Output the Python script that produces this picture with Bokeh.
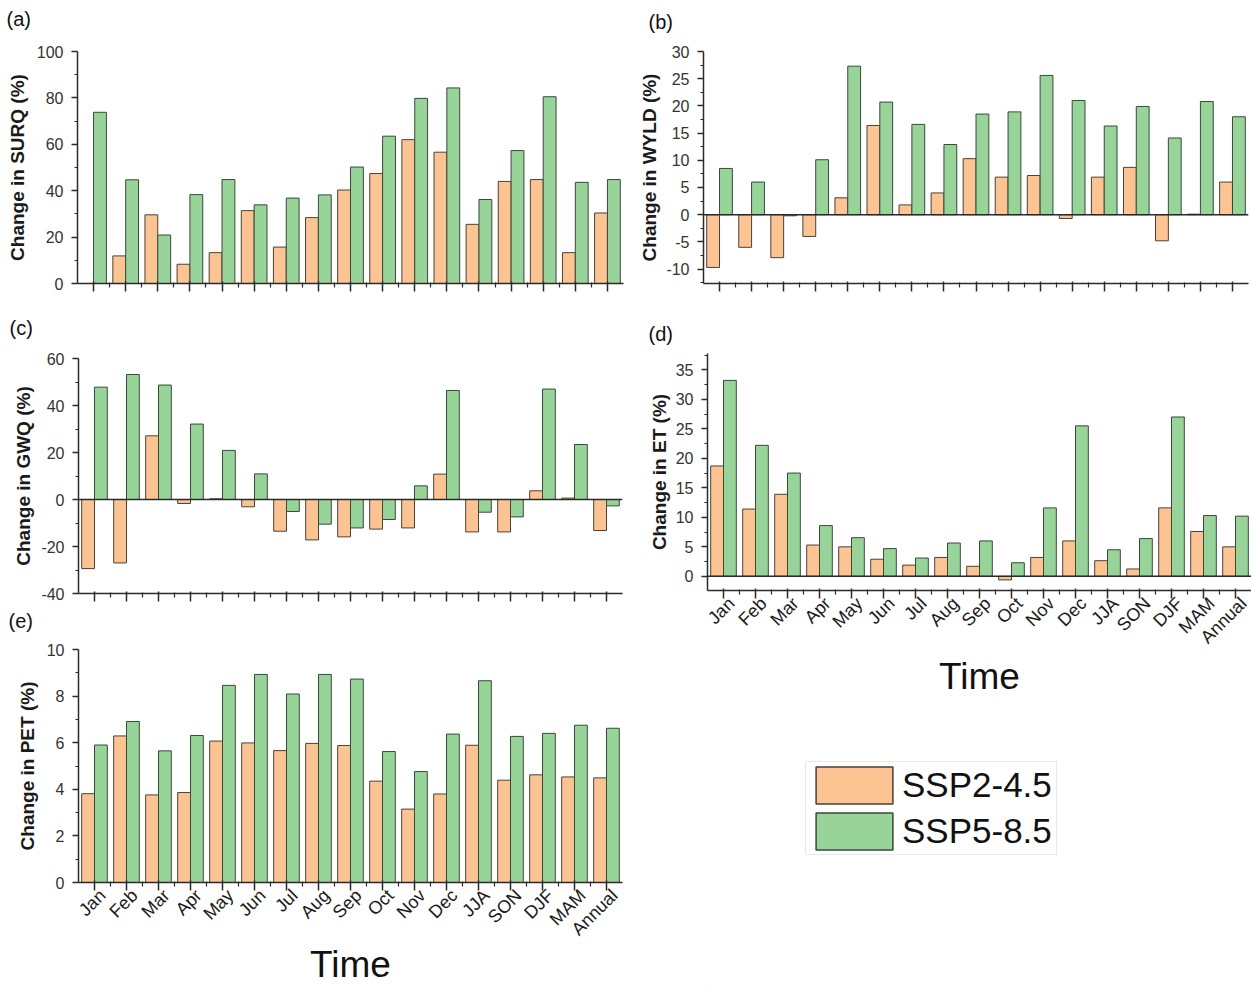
import numpy as np
from bokeh.plotting import figure
from bokeh.layouts import row, column
from bokeh.models import (ColumnDataSource, FixedTicker, Range1d, Span, Title,
                          Legend, LegendItem, LinearAxis)
from bokeh.embed import file_html
from bokeh.resources import INLINE

# ---------------- data ----------------
categories = ["Jan", "Feb", "Mar", "Apr", "May", "Jun", "Jul", "Aug", "Sep",
              "Oct", "Nov", "Dec", "JJA", "SON", "DJF", "MAM", "Annual"]
series_names = ["SSP2-4.5", "SSP5-8.5"]

surq_ssp245 = [0.0, 11.9, 29.6, 8.3, 13.3, 31.4, 15.7, 28.4, 40.3, 47.4, 62.0, 56.6, 25.5, 44.0, 44.8, 13.3, 30.4]
surq_ssp585 = [73.8, 44.7, 20.9, 38.3, 44.8, 33.9, 36.8, 38.2, 50.2, 63.5, 79.8, 84.3, 36.2, 57.3, 80.5, 43.6, 44.8]

wyld_ssp245 = [-9.7, -6.0, -7.9, -4.0, 3.1, 16.4, 1.8, 4.0, 10.3, 6.9, 7.2, -0.7, 6.9, 8.7, -4.8, 0.1, 6.0]
wyld_ssp585 = [8.5, 6.0, -0.2, 10.1, 27.3, 20.7, 16.6, 12.9, 18.5, 18.9, 25.6, 21.0, 16.3, 19.9, 14.1, 20.8, 18.0]

gwq_ssp245 = [-29.4, -27.0, 27.1, -1.7, 0.3, -3.1, -13.5, -17.2, -15.9, -12.6, -12.1, 10.8, -13.8, -13.8, 3.7, 0.6, -13.2]
gwq_ssp585 = [47.8, 53.2, 48.7, 32.1, 20.9, 10.9, -5.1, -10.5, -12.1, -8.5, 5.8, 46.4, -5.4, -7.4, 47.0, 23.4, -2.7]

et_ssp245 = [18.7, 11.4, 13.9, 5.3, 5.0, 2.9, 1.9, 3.2, 1.7, -0.6, 3.2, 6.0, 2.65, 1.25, 11.6, 7.6, 5.0]
et_ssp585 = [33.2, 22.2, 17.5, 8.6, 6.55, 4.7, 3.1, 5.65, 6.0, 2.3, 11.6, 25.5, 4.5, 6.4, 27.0, 10.3, 10.2]

pet_ssp245 = [3.81, 6.29, 3.76, 3.86, 6.07, 5.99, 5.66, 5.97, 5.88, 4.35, 3.15, 3.80, 5.89, 4.39, 4.62, 4.53, 4.49]
pet_ssp585 = [5.90, 6.91, 5.65, 6.31, 8.46, 8.93, 8.09, 8.93, 8.73, 5.62, 4.76, 6.37, 8.66, 6.27, 6.40, 6.75, 6.62]

ORANGE = "#FDC493"
GREEN = "#98D49A"
ORANGE_EDGE = "#4a4036"
GREEN_EDGE = "#364a38"
FONT = "Liberation Sans"
AXIS_COLOR = "#2a2a2a"
LABEL_SHIFT = 0.25   # rotated tick labels sit a little right of their tick


def style_ticks_only(ax):
    ax.major_label_text_font_size = "0px"
    ax.major_label_text_color = None
    ax.major_label_standoff = 0


def make_panel(tag, ylabel, v245, v585, yr, y_major, y_minor,
               W, H, borders, tag_offset, tag_standoff, tag_two_line, ylabel_standoff,
               show_x=False, time_standoff=0, zero_line=True):
    L, R, T, B = borders
    p = figure(width=W, height=H, output_backend="svg", toolbar_location=None,
               x_range=Range1d(-0.5, len(categories) - 0.5),
               y_range=Range1d(*yr),
               min_border_left=L, min_border_right=R,
               min_border_top=T, min_border_bottom=B)
    p.outline_line_color = None
    p.grid.visible = False
    p.background_fill_color = None
    p.border_fill_color = None

    x = np.arange(len(categories))
    src = ColumnDataSource(dict(x1=x - 0.2, x2=x + 0.2, a=v245, b=v585))
    p.vbar(x="x1", top="a", bottom=0, width=0.4, source=src,
           fill_color=ORANGE, line_color=ORANGE_EDGE, line_width=1)
    p.vbar(x="x2", top="b", bottom=0, width=0.4, source=src,
           fill_color=GREEN, line_color=GREEN_EDGE, line_width=1)

    if zero_line:
        p.add_layout(Span(location=0, dimension="width", line_color=AXIS_COLOR, line_width=1.5))

    # x axis: tick marks
    xa = p.xaxis[0]
    xa.ticker = FixedTicker(ticks=list(range(len(categories))),
                            minor_ticks=[i + 0.5 for i in range(len(categories) - 1)])
    xa.axis_line_color = AXIS_COLOR
    xa.axis_line_width = 1.5
    xa.major_tick_line_color = AXIS_COLOR
    xa.major_tick_line_width = 1.5
    xa.minor_tick_line_color = AXIS_COLOR
    xa.minor_tick_line_width = 1.2
    xa.major_tick_out = 8
    xa.major_tick_in = 2
    xa.minor_tick_out = 4
    xa.minor_tick_in = 1
    style_ticks_only(xa)

    if show_x:
        # second (line-less) axis carrying the rotated category labels and the title
        lx = LinearAxis(ticker=FixedTicker(ticks=[i + LABEL_SHIFT for i in range(len(categories))]))
        lx.major_label_overrides = {i + LABEL_SHIFT: c for i, c in enumerate(categories)}
        lx.axis_line_color = None
        lx.major_tick_line_color = None
        lx.minor_tick_line_color = None
        lx.major_tick_in = 0
        lx.major_tick_out = 0
        lx.minor_tick_in = 0
        lx.minor_tick_out = 0
        lx.major_label_orientation = np.pi / 4
        lx.major_label_text_font = FONT
        lx.major_label_text_font_size = "18px"
        lx.major_label_text_color = "#1a1a1a"
        lx.major_label_standoff = 2
        lx.axis_label = "Time"
        lx.axis_label_text_font = FONT
        lx.axis_label_text_font_size = "37px"
        lx.axis_label_text_font_style = "normal"
        lx.axis_label_text_color = "#111111"
        lx.axis_label_standoff = time_standoff
        p.add_layout(lx, "below")

    # y axis
    ya = p.yaxis[0]
    ya.ticker = FixedTicker(ticks=y_major, minor_ticks=y_minor)
    ya.major_label_overrides = {v: f"{v:g}" for v in y_major}
    ya.axis_line_color = AXIS_COLOR
    ya.axis_line_width = 1.5
    ya.major_tick_line_color = AXIS_COLOR
    ya.major_tick_line_width = 1.5
    ya.minor_tick_line_color = AXIS_COLOR
    ya.minor_tick_line_width = 1.2
    ya.major_tick_out = 6
    ya.major_tick_in = 0
    ya.minor_tick_out = 3
    ya.minor_tick_in = 0
    ya.major_label_text_font = FONT
    ya.major_label_text_font_size = "16px"
    ya.major_label_text_color = "#333333"
    ya.major_label_standoff = 8
    ya.axis_label = ylabel
    ya.axis_label_text_font = FONT
    ya.axis_label_text_font_size = "19px"
    ya.axis_label_text_font_style = "bold"
    ya.axis_label_text_color = "#1a1a1a"
    ya.axis_label_standoff = ylabel_standoff

    # panel tag
    p.add_layout(Title(text=tag + ("\n" if tag_two_line else ""), align="left",
                       offset=tag_offset, standoff=tag_standoff,
                       text_font=FONT, text_font_size="20px", text_font_style="normal",
                       text_line_height=0.7, text_color="#111111"), "above")
    return p


def rng(a, b, s):
    return [float(v) for v in np.arange(a, b + s / 2, s)]


pa = make_panel("(a)", "Change in SURQ (%)", surq_ssp245, surq_ssp585,
                (0, 100), rng(0, 100, 20), rng(10, 90, 20),
                630, 310, (77, 7, 51, 23), -71, 12, True, 6, zero_line=False)
pb = make_panel("(b)", "Change in WYLD (%)", wyld_ssp245, wyld_ssp585,
                (-12.65, 30), rng(-10, 30, 5), rng(-12.5, 27.5, 5),
                621, 310, (73, 3, 47, 27), -55, 6, True, 3)
pc = make_panel("(c)", "Change in GWQ (%)", gwq_ssp245, gwq_ssp585,
                (-40, 60), rng(-40, 60, 20), rng(-30, 50, 20),
                630, 295, (77, 8, 48, 12), -69, 9, True, 4)
pd = make_panel("(d)", "Change in ET (%)", et_ssp245, et_ssp585,
                (-2.4, 37.76), rng(0, 35, 5), rng(-2.5, 37.5, 5),
                621, 390, (77, 0, 43, 110), -59, 17, False, 3,
                show_x=True, time_standoff=-1)
pe = make_panel("(e)", "Change in PET (%)", pet_ssp245, pet_ssp585,
                (0, 10), rng(0, 10, 2), rng(1, 9, 2),
                630, 383, (78, 8, 44, 103), -70, 4, True, 6,
                show_x=True, time_standoff=-5, zero_line=False)

# legend panel (swatches are legend glyphs of zero-height dummy bars outside the view)
pl = figure(width=621, height=288, output_backend="svg", toolbar_location=None,
            x_range=Range1d(0, 1), y_range=Range1d(0, 1),
            x_axis_location=None, y_axis_location=None, min_border=0)
pl.outline_line_color = None
pl.grid.visible = False
dummy = ColumnDataSource(dict(x=[-5.0], top=[0.0]))
r1 = pl.vbar(x="x", top="top", width=0.4, source=dummy,
             fill_color=ORANGE, line_color=ORANGE_EDGE, line_width=1.5)
r2 = pl.vbar(x="x", top="top", width=0.4, source=dummy,
             fill_color=GREEN, line_color=GREEN_EDGE, line_width=1.5)
leg = Legend(items=[LegendItem(label=series_names[0], renderers=[r1]),
                    LegendItem(label=series_names[1], renderers=[r2])],
             location=(98, 133), orientation="vertical",
             glyph_width=96, glyph_height=46, padding=0, spacing=0, margin=0,
             label_standoff=0, label_width=154,
             label_text_font=FONT, label_text_font_size="35px", label_text_color="#111111",
             border_line_color="#d4d4d4", border_line_width=1.5,
             background_fill_color="white", background_fill_alpha=1.0)
pl.add_layout(leg, "center")

layout = column(row(pa, pb), row(column(pc, pe), column(pd, pl)))

with open("out.html", "w") as f:
    f.write(file_html(layout, INLINE))
